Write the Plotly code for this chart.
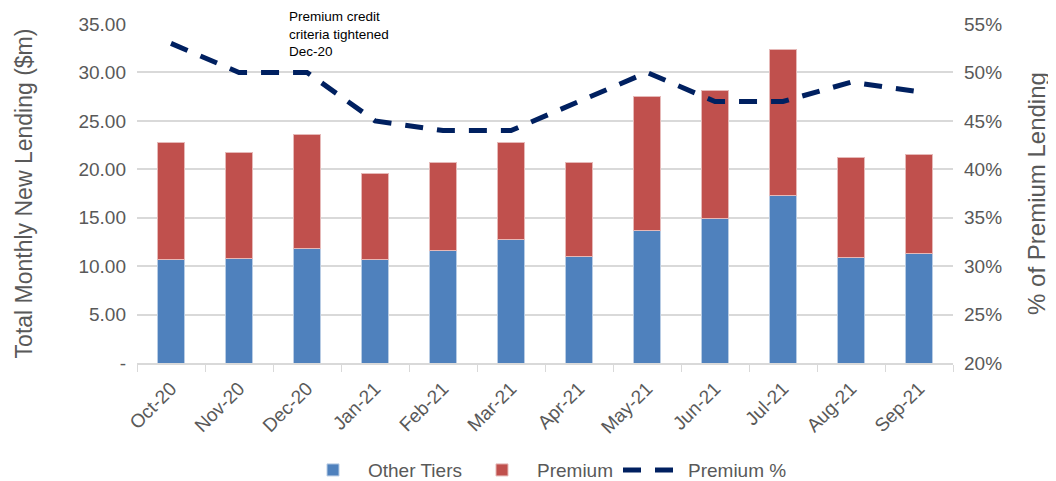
import plotly.graph_objects as go

# Data
months = ['Oct-20', 'Nov-20', 'Dec-20', 'Jan-21', 'Feb-21', 'Mar-21',
          'Apr-21', 'May-21', 'Jun-21', 'Jul-21', 'Aug-21', 'Sep-21']
other_tiers = [10.7, 10.8, 11.8, 10.7, 11.6, 12.8, 11.0, 13.7, 14.9, 17.3, 10.9, 11.3]
premium = [12.1, 10.9, 11.8, 8.9, 9.1, 10.0, 9.7, 13.8, 13.2, 15.1, 10.3, 10.2]
premium_pct = [53, 50, 50, 45, 44, 44, 47, 50, 47, 47, 49, 48]

left_ticks = [0, 5, 10, 15, 20, 25, 30, 35]
left_labels = ['-', '5.00', '10.00', '15.00', '20.00', '25.00', '30.00', '35.00']
right_ticks = [20, 25, 30, 35, 40, 45, 50, 55]
right_labels = [f'{v}%' for v in right_ticks]

grey = '#595959'
font = 'Liberation Sans'

fig = go.Figure()
fig.add_trace(go.Bar(x=months, y=other_tiers, name='Other Tiers',
                     marker=dict(color='#4F81BD', line=dict(color='#B8CCE4', width=1))))
fig.add_trace(go.Bar(x=months, y=premium, name='Premium',
                     marker=dict(color='#C0504D', line=dict(color='#E6B9B8', width=1))))
fig.add_trace(go.Scatter(x=months, y=premium_pct, name='Premium %', yaxis='y2',
                         mode='lines', line=dict(color='#002060', width=5, dash='18px,14px')))

# page body adds an 8px margin, so the figure is shifted; the bottom just runs past the window
fig.update_layout(
    width=1048, height=492,
    barmode='stack', bargap=0.6,
    plot_bgcolor='white', paper_bgcolor='white',
    margin=dict(l=129, r=103, t=16, b=136),
    font=dict(family=font, color=grey),
    xaxis=dict(tickangle=-45, tickfont=dict(size=19, color=grey), automargin=False,
               showline=True, linecolor='#D9D9D9', linewidth=2, ticklabelstandoff=5,
               ticks='outside', tickson='boundaries', ticklen=7, tickcolor='#D9D9D9'),
    yaxis=dict(range=[0, 35], tickvals=left_ticks, ticktext=left_labels, automargin=False,
               tickfont=dict(size=19, color=grey), showgrid=True, gridcolor='#D9D9D9',
               gridwidth=1.5, zeroline=False, ticks='', ticklabelstandoff=10,
               title=dict(text='Total Monthly New Lending ($m)', font=dict(size=23, color=grey),
                          standoff=39)),
    yaxis2=dict(range=[20, 55], overlaying='y', side='right', tickvals=right_ticks,
                ticktext=right_labels, showgrid=False, zeroline=False, automargin=False,
                tickfont=dict(size=19, color=grey), ticklabelstandoff=10,
                title=dict(text='% of Premium Lending', font=dict(size=24, color=grey),
                           standoff=27)),
    legend=dict(orientation='h', x=0.5, xanchor='center', y=-0.312, yanchor='middle',
                font=dict(size=19, color=grey), itemwidth=60, traceorder='normal'),
    showlegend=True,
)

fig.add_annotation(text='Premium credit<br>criteria tightened<br>Dec-20',
                   xref='paper', yref='paper', x=0.185, y=1.047, xanchor='left', yanchor='top',
                   showarrow=False, align='left', borderpad=0,
                   font=dict(size=13.5, color='#000000', family=font))

fig.write_html('out.html')
